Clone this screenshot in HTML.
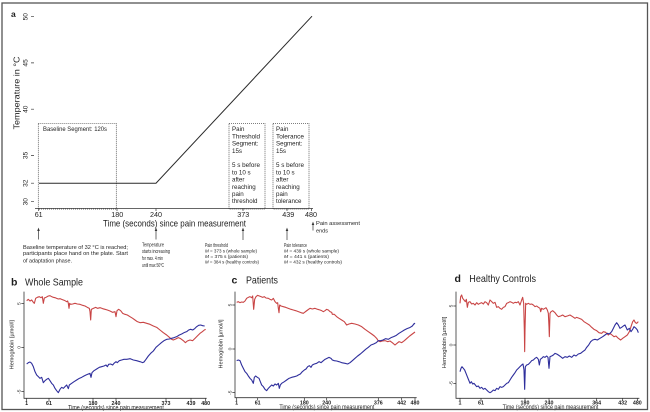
<!DOCTYPE html>
<html><head><meta charset="utf-8"><style>
html,body{margin:0;padding:0;background:#fff}
svg{display:block}
text{font-family:"Liberation Sans",Arial,sans-serif;fill:#1e1e1e}
</style></head><body>
<svg width="650" height="412" viewBox="0 0 650 412" xmlns="http://www.w3.org/2000/svg">
<rect x="0" y="0" width="650" height="412" fill="#fff"/>

<!-- ===== Panel a ===== -->
<text x="11" y="17" font-size="8.5" font-weight="bold">a</text>
<text transform="translate(19.5,93) rotate(-90)" font-size="8.6" text-anchor="middle" textLength="73" lengthAdjust="spacingAndGlyphs">Temperature in °C</text>
<g font-size="6.6" text-anchor="middle">
<text transform="translate(27.6,16.7) rotate(-90)">50</text>
<text transform="translate(27.6,62.9) rotate(-90)">45</text>
<text transform="translate(27.6,109.2) rotate(-90)">40</text>
<text transform="translate(27.6,155.4) rotate(-90)">35</text>
<text transform="translate(27.6,183.2) rotate(-90)">32</text>
<text transform="translate(27.6,201.7) rotate(-90)">30</text>
</g>
<path d="M31,16.7H34M31,62.9H34M31,109.2H34M31,155.4H34M31,183.2H34M31,201.7H34" stroke="#333" stroke-width="0.7"/>
<polyline points="39,183.2 156,183.2 312,16.2" fill="none" stroke="#2a2a2a" stroke-width="1"/>
<!-- x axis -->
<path d="M35,208.5H313" stroke="#333" stroke-width="0.8"/>
<path d="M38.7,208.5V211M117,208.5V211M156,208.5V211M243,208.5V211M287,208.5V211M311.5,208.5V211" stroke="#333" stroke-width="0.7"/>
<g font-size="7.2" text-anchor="middle">
<text x="38.7" y="216.8">61</text>
<text x="117.3" y="216.8">180</text>
<text x="156" y="216.8">240</text>
<text x="243.3" y="216.8">373</text>
<text x="288.3" y="216.8">439</text>
<text x="311" y="216.8">480</text>
</g>
<text x="174.5" y="226.6" font-size="9.2" text-anchor="middle" textLength="143" lengthAdjust="spacingAndGlyphs">Time (seconds) since pain measurement</text>
<!-- dotted boxes -->
<g fill="none" stroke="#333" stroke-width="0.7" stroke-dasharray="1,1">
<rect x="38.3" y="123.3" width="78" height="85.7"/>
<rect x="229" y="123.3" width="36" height="85.7"/>
<rect x="273" y="123.3" width="36" height="85.7"/>
</g>
<text x="43" y="131.2" font-size="6" textLength="64" lengthAdjust="spacingAndGlyphs">Baseline Segment: 120s</text>
<g font-size="6.2">
<text x="232" y="131.2">Pain</text>
<text x="232" y="138.4" textLength="28" lengthAdjust="spacingAndGlyphs">Threshold</text>
<text x="232" y="145.6">Segment:</text>
<text x="232" y="152.8">15s</text>
<text x="232" y="167.2" textLength="28" lengthAdjust="spacingAndGlyphs">5 s before</text>
<text x="232" y="174.4">to 10 s</text>
<text x="232" y="181.6">after</text>
<text x="232" y="188.8">reaching</text>
<text x="232" y="196">pain</text>
<text x="232" y="203.2">threshold</text>
<text x="276" y="131.2">Pain</text>
<text x="276" y="138.4" textLength="28" lengthAdjust="spacingAndGlyphs">Tolerance</text>
<text x="276" y="145.6">Segment:</text>
<text x="276" y="152.8">15s</text>
<text x="276" y="167.2" textLength="28" lengthAdjust="spacingAndGlyphs">5 s before</text>
<text x="276" y="174.4">to 10 s</text>
<text x="276" y="181.6">after</text>
<text x="276" y="188.8">reaching</text>
<text x="276" y="196">pain</text>
<text x="276" y="203.2">tolerance</text>
</g>
<!-- arrows -->
<g stroke="#333" stroke-width="0.7">
<path d="M38.5,230V239.5M156,230V239.5M243,230V240M287,230V240M313,224V230.5"/>
</g>
<g fill="#333">
<polygon points="37.2,231 38.5,227.6 39.8,231"/>
<polygon points="154.7,231 156,227.6 157.3,231"/>
<polygon points="241.7,231 243,227.6 244.3,231"/>
<polygon points="285.7,231 287,227.6 288.3,231"/>
<polygon points="311.7,225 313,221.6 314.3,225"/>
</g>
<g font-size="5.6">
<text x="23" y="248.8" textLength="105" lengthAdjust="spacingAndGlyphs">Baseline temperature  of 32 °C is reached;</text>
<text x="23" y="255.2" textLength="105" lengthAdjust="spacingAndGlyphs">participants place hand  on the plate. Start</text>
<text x="23" y="262.5" textLength="49" lengthAdjust="spacingAndGlyphs">of adaptation phase.</text>
<text x="142" y="246.3" textLength="22" lengthAdjust="spacingAndGlyphs">Temperature</text>
<text x="142" y="253" textLength="28" lengthAdjust="spacingAndGlyphs">starts increasing</text>
<text x="142" y="260" textLength="21" lengthAdjust="spacingAndGlyphs">for max. 4 min</text>
<text x="142" y="266.8" textLength="22" lengthAdjust="spacingAndGlyphs">until max 50°C</text>
<text x="205" y="247" textLength="23" lengthAdjust="spacingAndGlyphs">Pain threshold</text>
<text x="284" y="247" textLength="23" lengthAdjust="spacingAndGlyphs">Pain tolerance</text>
<text x="316" y="225" textLength="44" lengthAdjust="spacingAndGlyphs">Pain assessment</text>
<text x="316" y="232.7" textLength="12" lengthAdjust="spacingAndGlyphs">ends</text>
</g>
<g font-size="4.7">
<text x="205" y="252.4" textLength="52" lengthAdjust="spacingAndGlyphs"><tspan font-style="italic">M</tspan> = 373 s (whole sample)</text>
<text x="205" y="257.9" textLength="43" lengthAdjust="spacingAndGlyphs"><tspan font-style="italic">M</tspan> = 375 s (patients)</text>
<text x="205" y="263.4" textLength="54" lengthAdjust="spacingAndGlyphs"><tspan font-style="italic">M</tspan> = 384 s (healthy controls)</text>
<text x="284" y="252.4" textLength="55" lengthAdjust="spacingAndGlyphs"><tspan font-style="italic">M</tspan> = 439 s (whole sample)</text>
<text x="284" y="257.9" textLength="45" lengthAdjust="spacingAndGlyphs"><tspan font-style="italic">M</tspan> = 441 s (patients)</text>
<text x="284" y="263.4" textLength="58" lengthAdjust="spacingAndGlyphs"><tspan font-style="italic">M</tspan> = 432 s (healthy controls)</text>
</g>

<!-- ===== Panel b ===== -->
<text x="11" y="285.5" font-size="10.5" font-weight="bold">b</text>
<text x="25" y="285.5" font-size="10.5" textLength="58" lengthAdjust="spacingAndGlyphs">Whole Sample</text>
<g transform="translate(0,270) scale(0.333333)">
<path d="M72,65V385H620" stroke="#333" stroke-width="2.4" fill="none"/>
<path d="M64,101H72M64,232H72M64,365H72M80,385V393M147,385V393M279,385V393M348,385V393M498,385V393M573,385V393M617,385V393" stroke="#333" stroke-width="2.2"/>
<g font-size="15" text-anchor="middle">
<text transform="translate(62,101) rotate(-90)">5</text>
<text transform="translate(62,232) rotate(-90)">0</text>
<text transform="translate(62,365) rotate(-90)">-5</text>
</g>
<g font-size="16" text-anchor="middle" font-weight="bold">
<text x="80" y="405">1</text><text x="147" y="405">61</text><text x="279" y="405">180</text><text x="348" y="405">240</text><text x="498" y="405">373</text><text x="573" y="405">439</text><text x="617" y="405">480</text>
</g>
<text x="348" y="418" font-size="18" text-anchor="middle" textLength="287" lengthAdjust="spacingAndGlyphs">Time (seconds) since pain measurement</text>
<text transform="translate(40,224) rotate(-90)" font-size="16" text-anchor="middle" textLength="148" lengthAdjust="spacingAndGlyphs">Hemoglobin [µmol/l]</text>
<polyline fill="none" stroke="#c94545" stroke-width="3.3" stroke-linejoin="round" points="80,92 85,88 90,93 95,90 100,97 103,100 107,85 112,82 118,80 123,83 127,80 130,100 133,84 138,82 145,78 150,77 155,80 160,82 165,83 170,85 175,87 180,86 185,88 190,90 195,92 200,95 203,93 205,100 207,115 209,100 212,103 218,102 225,100 232,102 240,103 248,106 255,108 262,112 268,115 270,125 272,150 274,118 280,115 287,112 293,115 300,113 308,116 315,118 322,120 330,123 338,127 345,125 348,140 351,122 356,118 362,122 368,130 375,133 382,135 390,140 398,145 405,150 412,155 420,158 430,157 440,160 450,163 460,168 470,172 480,180 490,188 500,195 508,202 515,208 520,210 527,207 535,203 542,206 550,212 556,218 562,213 570,210 578,212 585,205 592,198 600,190 607,185 613,180 617,178"/>
<polyline fill="none" stroke="#2e2e9c" stroke-width="3.3" stroke-linejoin="round" points="80,282 85,278 90,276 95,280 100,290 105,305 110,315 115,320 120,325 125,322 130,338 135,332 140,328 145,325 150,332 155,340 160,345 165,355 170,362 175,368 180,358 185,352 190,355 195,350 200,345 205,356 208,345 215,340 222,335 230,330 238,325 245,322 252,318 258,315 265,312 270,310 273,322 276,308 282,302 290,297 298,292 305,290 312,288 318,285 322,290 326,283 332,282 338,285 342,280 348,275 352,278 358,272 365,270 372,268 380,268 390,266 400,270 410,272 420,275 428,278 432,276 438,268 445,258 452,250 460,243 468,232 476,225 484,218 492,212 500,208 508,207 515,205 522,203 530,200 538,195 545,192 552,188 560,185 566,180 572,178 578,180 584,176 590,170 596,166 602,165 608,167 614,168"/>
</g>

<!-- ===== Panel c ===== -->
<text x="231.5" y="283.5" font-size="10.5" font-weight="bold">c</text>
<text x="246" y="283.5" font-size="10.5" textLength="32" lengthAdjust="spacingAndGlyphs">Patients</text>
<g transform="translate(215,270) scale(0.333333)">
<path d="M60,65V383H605" stroke="#333" stroke-width="2.4" fill="none"/>
<path d="M52,105H60M52,237H60M52,368H60M65,383V391M128,383V391M268,383V391M335,383V391M490,383V391M560,383V391M600,383V391" stroke="#333" stroke-width="2.2"/>
<g font-size="15" text-anchor="middle">
<text transform="translate(50,105) rotate(-90)">5</text>
<text transform="translate(50,237) rotate(-90)">0</text>
<text transform="translate(50,368) rotate(-90)">-5</text>
</g>
<g font-size="16" text-anchor="middle" font-weight="bold">
<text x="65" y="403">1</text><text x="128" y="403">61</text><text x="268" y="403">180</text><text x="335" y="403">240</text><text x="490" y="403">376</text><text x="560" y="403">442</text><text x="600" y="403">480</text>
</g>
<text x="335.5" y="417" font-size="18" text-anchor="middle" textLength="285" lengthAdjust="spacingAndGlyphs">Time (seconds) since pain measurement</text>
<text transform="translate(22,222) rotate(-90)" font-size="16" text-anchor="middle" textLength="147" lengthAdjust="spacingAndGlyphs">Hemoglobin [µmol/l]</text>
<polyline fill="none" stroke="#c94545" stroke-width="3.3" stroke-linejoin="round" points="65,97 70,95 75,98 80,96 85,97 90,93 95,85 100,82 105,80 110,83 113,78 116,118 119,88 123,80 128,76 133,78 138,80 143,82 148,80 153,84 160,85 165,88 170,90 175,85 180,95 185,100 188,98 190,115 192,128 194,105 198,108 205,110 212,112 220,115 228,118 235,120 242,122 250,125 258,128 265,130 270,126 278,120 285,115 292,117 300,115 308,118 315,120 320,122 325,125 330,122 335,118 340,120 345,125 350,127 352,133 358,133 365,140 372,145 380,150 388,155 395,165 402,162 410,160 420,162 430,165 440,170 450,178 460,185 470,192 478,198 485,205 490,213 495,215 502,213 510,212 518,215 525,213 532,218 540,225 546,220 552,215 560,218 568,212 576,205 584,198 592,192 600,186"/>
<polyline fill="none" stroke="#2e2e9c" stroke-width="3.3" stroke-linejoin="round" points="65,272 70,270 75,272 80,285 85,295 90,305 95,310 100,318 105,325 110,330 115,340 118,322 122,318 127,322 132,325 136,335 140,345 145,350 150,358 155,362 160,355 165,350 170,345 175,348 180,342 185,345 190,340 193,355 196,345 200,340 208,335 215,330 222,325 230,322 238,320 245,318 250,315 256,312 262,305 268,300 273,297 278,290 283,287 288,292 292,285 298,282 305,280 312,275 318,278 325,272 330,268 336,265 342,262 348,265 352,270 358,272 365,273 372,275 380,278 390,280 398,282 405,278 412,272 420,265 428,258 436,252 444,245 452,238 460,232 468,225 476,222 484,218 490,212 497,212 504,210 512,206 520,208 528,203 536,200 544,196 552,190 560,185 568,180 576,176 584,173 592,168 598,160 600,162"/>
</g>

<!-- ===== Panel d ===== -->
<text x="454.5" y="281.8" font-size="10.5" font-weight="bold">d</text>
<text x="469.3" y="281.8" font-size="10.5" textLength="66.7" lengthAdjust="spacingAndGlyphs">Healthy Controls</text>
<g transform="translate(430,270) scale(0.333333)">
<path d="M78,65V385H628" stroke="#333" stroke-width="2.4" fill="none"/>
<path d="M70,108H78M70,225H78M70,340H78M90,385V393M153,385V393M285,385V393M357,385V393M500,385V393M578,385V393M622,385V393" stroke="#333" stroke-width="2.2"/>
<g font-size="15" text-anchor="middle">
<text transform="translate(67,108) rotate(-90)">5</text>
<text transform="translate(67,225) rotate(-90)">0</text>
<text transform="translate(67,340) rotate(-90)">-5</text>
</g>
<g font-size="16" text-anchor="middle" font-weight="bold">
<text x="90" y="404">1</text><text x="153" y="404">61</text><text x="285" y="404">180</text><text x="357" y="404">240</text><text x="500" y="404">364</text><text x="578" y="404">432</text><text x="622" y="404">480</text>
</g>
<text x="361.5" y="417" font-size="18" text-anchor="middle" textLength="287" lengthAdjust="spacingAndGlyphs">Time (seconds) since pain measurement</text>
<text transform="translate(48,217.5) rotate(-90)" font-size="16" text-anchor="middle" textLength="155" lengthAdjust="spacingAndGlyphs">Hemoglobin [µmol/l]</text>
<polyline fill="none" stroke="#c94545" stroke-width="3.3" stroke-linejoin="round" points="90,100 92,80 95,75 98,85 102,90 106,95 109,88 112,112 115,97 120,95 125,102 130,100 135,105 140,98 145,103 150,100 155,98 160,102 165,95 170,98 175,105 180,90 185,95 190,100 195,97 200,112 205,110 210,115 215,118 220,112 225,110 230,100 235,98 240,95 245,97 250,100 255,97 260,98 265,95 270,105 275,90 278,82 281,100 283,180 284,245 285,180 287,100 290,103 295,100 300,103 305,102 310,105 315,110 320,108 325,112 330,115 332,125 335,115 340,118 345,115 348,113 352,120 355,130 357,170 358,200 360,130 363,125 368,122 375,128 380,135 385,140 392,138 398,135 405,140 412,138 420,135 428,140 435,145 440,142 448,145 455,148 462,155 470,160 478,165 485,172 492,178 500,182 507,188 515,190 520,185 527,187 535,195 540,190 546,195 552,200 558,198 565,205 572,210 578,205 585,200 592,195 598,185 603,170 608,155 612,150 616,158 620,160 625,155"/>
<polyline fill="none" stroke="#2e2e9c" stroke-width="3.3" stroke-linejoin="round" points="90,305 93,295 96,290 100,295 104,300 108,310 112,320 116,330 120,340 124,335 128,342 132,340 136,345 140,350 145,348 150,355 155,352 160,358 165,355 170,360 175,365 180,368 185,365 190,360 195,362 200,355 205,358 210,350 215,352 220,350 225,345 230,340 235,338 240,330 245,322 250,315 255,308 260,300 265,295 270,290 275,285 279,282 282,300 284,358 286,290 290,285 295,283 300,278 305,272 310,270 315,265 320,262 325,268 328,285 331,268 335,265 340,260 345,262 350,258 354,262 357,295 360,260 365,258 370,255 375,250 380,252 385,255 392,260 398,265 405,260 412,262 418,258 425,262 432,255 438,258 445,252 452,250 458,245 465,240 470,232 476,225 482,215 488,210 495,208 502,210 510,205 518,200 525,195 532,190 538,192 545,185 550,175 555,165 560,158 565,165 570,175 575,172 580,168 585,165 592,180 598,175 603,185 608,178 612,170 618,175 622,180 625,188"/>
</g>

<!-- outer frame -->
<rect x="2" y="3" width="645.5" height="406.5" fill="none" stroke="#555" stroke-width="1.3"/>
</svg>
</body></html>
